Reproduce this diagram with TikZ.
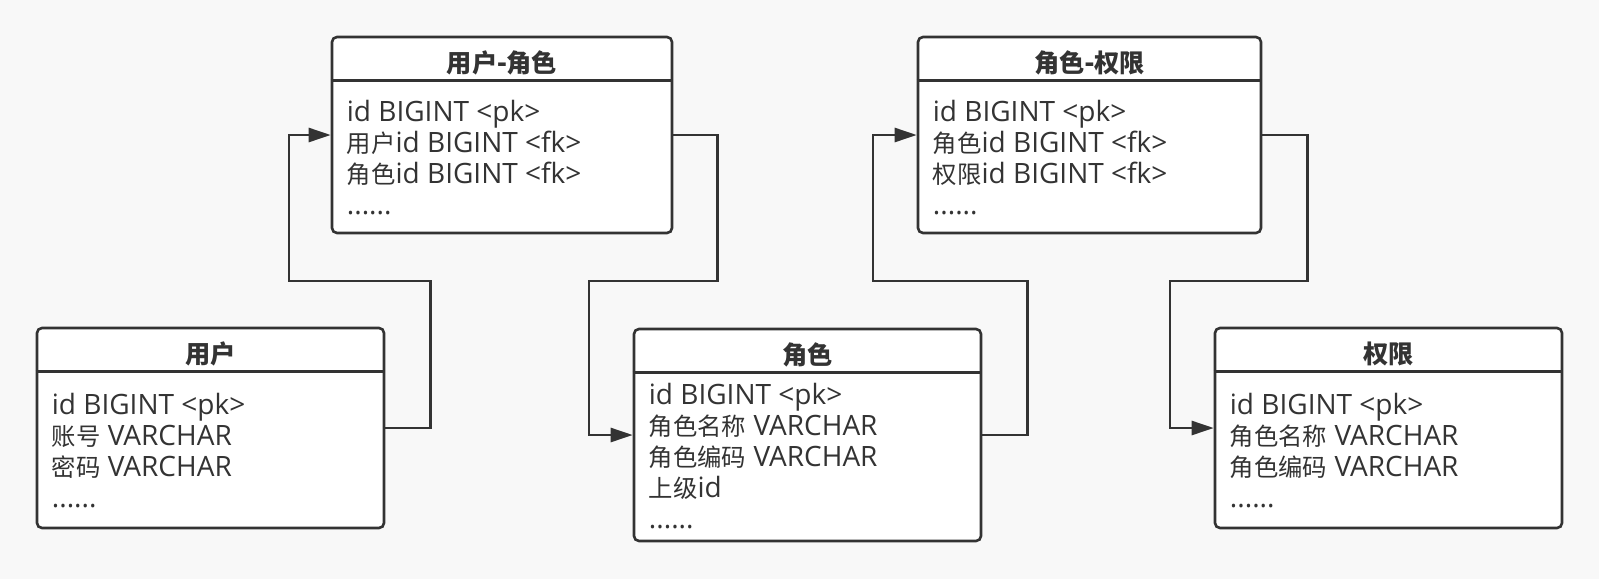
\documentclass[tikz,border=0pt]{standalone}
\usepackage{fontspec}
\setmainfont{Open Sans}
\newfontfamily\cjk[Scale=0.87]{Noto Sans CJK SC}
\usepackage{xcolor}
\usetikzlibrary{arrows.meta, positioning}
\definecolor{ink}{HTML}{333333}
\definecolor{paper}{HTML}{F8F8F8}
\newcommand{\tblsize}{\fontsize{28}{31}\selectfont}
\tikzset{
  tbl/.style={draw=ink, fill=white, line width=2.6pt, rounded corners=5pt},
  ttl/.style={font=\fontsize{29}{31}\selectfont\bfseries, text=ink, inner sep=0pt},
  fields/.style={font=\tblsize, align=left, anchor=west, text=ink, inner sep=0pt},
  hline/.style={draw=ink, line width=2.6pt},
  fk/.style={draw=ink, line width=2.6pt, -{Triangle[length=22pt,width=14pt]}}
}

\begin{document}
\begin{tikzpicture}[x=1pt, y=-1pt]
    \fill[paper] (0,0) rectangle (1599,579);
    \useasboundingbox (0,0) rectangle (1599,579);

    \node[tbl, minimum width=347pt, minimum height=200pt] (user) at (210.5,428) {};
    \node[ttl] (user-t) at ([yshift=-27pt]user.north) {{\cjk 用户}};
    \draw[hline] ([yshift=-45pt]user.north west) -- ([yshift=-45pt]user.north east);
    \node[fields] (user-f) at ([xshift=16pt,yshift=-27pt]user.west)
        {id BIGINT <pk>\\{\cjk 账号} VARCHAR\\{\cjk 密码} VARCHAR\\......\strut};

    \node[tbl, minimum width=340pt, minimum height=196pt] (userrole) at (502,135) {};
    \node[ttl] (userrole-t) at ([yshift=-27pt]userrole.north) {{\cjk 用户}-{\cjk 角色}};
    \draw[hline] ([yshift=-45pt]userrole.north west) -- ([yshift=-45pt]userrole.north east);
    \node[fields] (userrole-f) at ([xshift=16pt,yshift=-27pt]userrole.west)
        {id BIGINT <pk>\\{\cjk 用户}id BIGINT <fk>\\{\cjk 角色}id BIGINT <fk>\\......\strut};

    \node[tbl, minimum width=347pt, minimum height=212pt] (role) at (807.5,435) {};
    \node[ttl] (role-t) at ([yshift=-27pt]role.north) {{\cjk 角色}};
    \draw[hline] ([yshift=-45pt]role.north west) -- ([yshift=-45pt]role.north east);
    \node[fields] (role-f) at ([xshift=16pt,yshift=-26pt]role.west)
        {id BIGINT <pk>\\{\cjk 角色名称} VARCHAR\\{\cjk 角色编码} VARCHAR\\{\cjk 上级}id\\......\strut};

    \node[tbl, minimum width=343pt, minimum height=196pt] (roleperm) at (1089.5,135) {};
    \node[ttl] (roleperm-t) at ([yshift=-27pt]roleperm.north) {{\cjk 角色}-{\cjk 权限}};
    \draw[hline] ([yshift=-45pt]roleperm.north west) -- ([yshift=-45pt]roleperm.north east);
    \node[fields] (roleperm-f) at ([xshift=16pt,yshift=-27pt]roleperm.west)
        {id BIGINT <pk>\\{\cjk 角色}id BIGINT <fk>\\{\cjk 权限}id BIGINT <fk>\\......\strut};

    \node[tbl, minimum width=347pt, minimum height=200pt] (perm) at (1388.5,428) {};
    \node[ttl] (perm-t) at ([yshift=-27pt]perm.north) {{\cjk 权限}};
    \draw[hline] ([yshift=-45pt]perm.north west) -- ([yshift=-45pt]perm.north east);
    \node[fields] (perm-f) at ([xshift=16pt,yshift=-27pt]perm.west)
        {id BIGINT <pk>\\{\cjk 角色名称} VARCHAR\\{\cjk 角色编码} VARCHAR\\......\strut};

    \draw[fk] (user.east) -- ++(45,0) |- (289,281) |- (userrole.west);
    \draw[fk] (userrole.east) -- ++(44,0) |- (589,281) |- (role.west);
    \draw[fk] (role.east) -- ++(45,0) |- (873,281) |- (roleperm.west);
    \draw[fk] (roleperm.east) -- ++(45,0) |- (1170,281) |- (perm.west);
\end{tikzpicture}
\end{document}
